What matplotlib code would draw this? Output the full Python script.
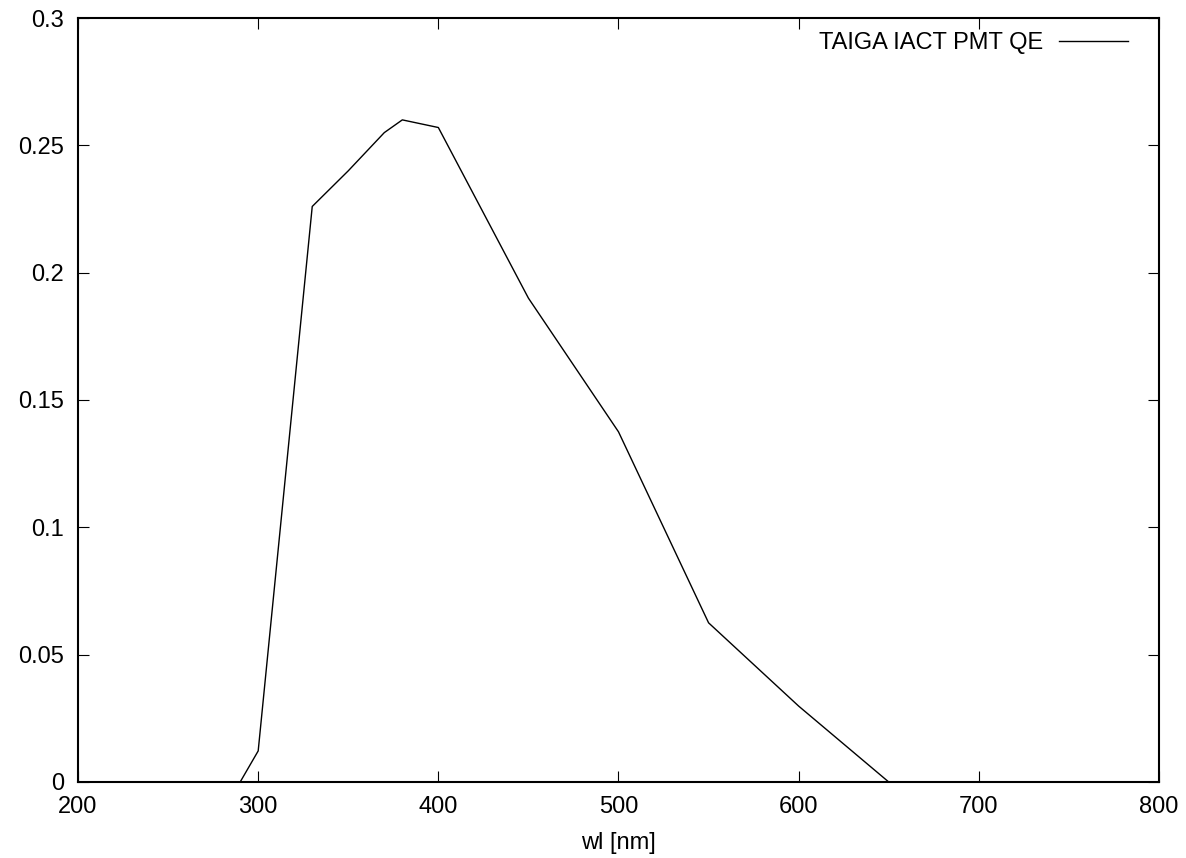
import numpy as np
import matplotlib.pyplot as plt

plt.rcParams['font.family'] = ['Liberation Sans', 'DejaVu Sans']

# PMT quantum efficiency vs wavelength
wl = [290, 300, 330, 350, 370, 380, 400, 450, 500, 550, 600, 650]
qe = [0.0, 0.0122, 0.226, 0.240, 0.255, 0.260, 0.257, 0.190, 0.1375, 0.0625, 0.0298, 0.0]

fig = plt.figure(figsize=(11.86, 8.58), dpi=100)
ax = fig.add_axes([0.0658, 0.0886, 0.9114, 0.8904])

ax.plot(wl, qe, color='black', linewidth=1.0, label='TAIGA IACT PMT QE')

ax.set_xlim(200, 800)
ax.set_ylim(0, 0.3)
ax.set_xticks(np.arange(200, 801, 100))
ax.set_yticks([0, 0.05, 0.1, 0.15, 0.2, 0.25, 0.3])
ax.set_yticklabels(['0', '0.05', '0.1', '0.15', '0.2', '0.25', '0.3'])
ax.tick_params(direction='in', length=8, width=0.8, labelsize=17,
               top=True, right=True, pad=10)
for sp in ax.spines.values():
    sp.set_linewidth(1.5)

ax.set_xlabel('wl [nm]', fontsize=17, labelpad=10)

ax.legend(loc='upper right', bbox_to_anchor=(0.980, 0.994), borderaxespad=0,
          frameon=False, markerfirst=False, fontsize=17,
          handlelength=2.9, handletextpad=0.7)

fig.savefig('out.png', dpi=100)
